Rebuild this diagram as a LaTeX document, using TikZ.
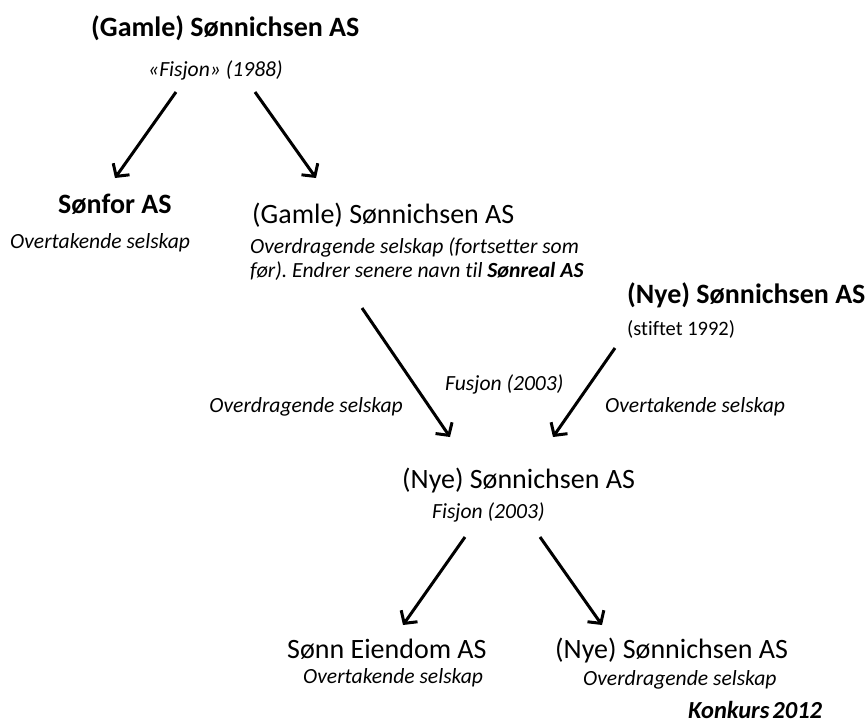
\documentclass[tikz,border=0pt]{standalone}
\usepackage{fontspec}
\setmainfont[Ligatures=NoCommon]{Carlito}
\usetikzlibrary{arrows.meta}
\tikzset{
  title/.style={inner sep=0pt, anchor=base west, font=\fontsize{28}{30}\selectfont},
  btitle/.style={title, font=\fontsize{28}{30}\selectfont\bfseries},
  note/.style={inner sep=0pt, anchor=base west, font=\fontsize{21.6}{24}\selectfont\itshape},
  plain/.style={inner sep=0pt, anchor=base west, font=\fontsize{20.5}{24}\selectfont},
  arr/.style={line width=3pt, -{Straight Barb[length=9pt,width=20pt]}},
}
\frenchspacing
\begin{document}
\begin{tikzpicture}[x=1pt,y=-1pt]
\useasboundingbox (0,0) rectangle (867,724);
\fill[white] (0,0) rectangle (867,724);
% texts
\node[btitle] (t1) at (91,36) {(Gamle) Sønnichsen AS};
\node[note] (f1988) at (148,76) {«Fisjon» (1988)};
\node[btitle] (sonfor) at (58,213) {Sønfor AS};
\node[note] (sonforn) at (10,248) {Overtakende selskap};
\node[title] (gamle2) at (252,223) {(Gamle) Sønnichsen AS};
\node[note] (gamle2a) at (250,253) {Overdragende selskap (fortsetter som};
\node[note] (gamle2b) at (250,277) {før). Endrer senere navn til \textbf{Sønreal AS}};
\node[btitle] (nye1) at (627,303) {(Nye) Sønnichsen AS};
\node[plain] (stift) at (627,335) {(stiftet 1992)};
\node[note] (fusjon) at (445,390) {Fusjon (2003)};
\node[note, anchor=base east] (overdr) at (403,412) {Overdragende selskap};
\node[note] (overt) at (605,412) {Overtakende selskap};
\node[title] (nye2) at (402,488) {(Nye) Sønnichsen AS};
\node[note] (f2003) at (432,518) {Fisjon (2003)};
\node[title] (eiendom) at (287,658) {Sønn Eiendom AS};
\node[note] (eiendomn) at (303,683) {Overtakende selskap};
\node[title] (nye3) at (555,658) {(Nye) Sønnichsen AS};
\node[note] (nye3n) at (583,685) {Overdragende selskap};
\node[note, font=\fontsize{24.5}{26}\selectfont\itshape\bfseries] (konkurs) at (688,718) {Konkurs\hspace{0.12em}2012};
% arrow end points
\coordinate (a1s) at (176,92);  \coordinate (a1e) at (115,178);
\coordinate (a2s) at (255,92);  \coordinate (a2e) at (316,178);
\coordinate (a3s) at (362,308); \coordinate (a3e) at (450,437);
\coordinate (a4s) at (615,348); \coordinate (a4e) at (553,437);
\coordinate (a5s) at (465,537); \coordinate (a5e) at (403,625);
\coordinate (a6s) at (540,537); \coordinate (a6e) at (602,625);
\draw[arr] (a1s) -- (a1e);
\draw[arr] (a2s) -- (a2e);
\draw[arr] (a3s) -- (a3e);
\draw[arr] (a4s) -- (a4e);
\draw[arr] (a5s) -- (a5e);
\draw[arr] (a6s) -- (a6e);
\end{tikzpicture}
\end{document}
